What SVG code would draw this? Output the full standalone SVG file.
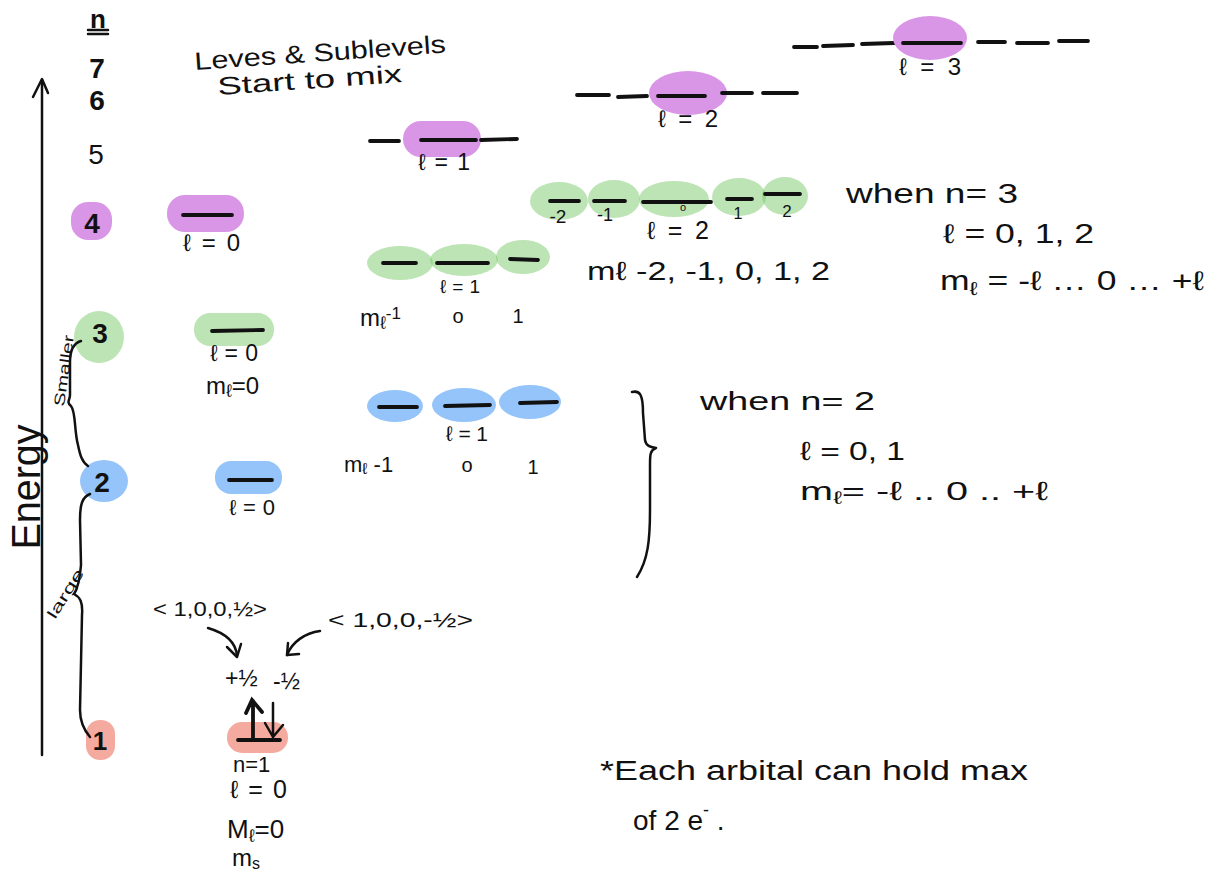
<svg xmlns="http://www.w3.org/2000/svg" width="1217" height="880" viewBox="0 0 1217 880">
<style>
.t{font-family:"Liberation Sans","DejaVu Sans",sans-serif;fill:#111}
.ln{stroke:#111;stroke-width:3.8;stroke-linecap:round;fill:none}
.th{stroke:#111;stroke-width:2.5;stroke-linecap:round;stroke-linejoin:round;fill:none}
.pu{fill:#da96e6}
.gr{fill:#7cc96a;fill-opacity:0.5}
.bl{fill:#94c4fa}
.sa{fill:#f5aaa0}
</style>
<rect width="1217" height="880" fill="#fff"/>

<g id="axis">
<path class="th" d="M42,80 L42,755"/>
<path class="th" d="M33,97 L42,79 L48,93"/>
<text class="t" font-size="40" text-anchor="middle" textLength="125" lengthAdjust="spacingAndGlyphs" transform="translate(40,487) rotate(-90)">Energy</text>
</g>

<g id="n-labels">
<text class="t" font-size="26" font-weight="bold" x="98" y="28" text-anchor="middle">n</text>
<path class="th" d="M88,30 L108,30 M88,34 L108,34"/>
<text class="t" font-size="28" font-weight="bold" x="97" y="78" text-anchor="middle">7</text>
<text class="t" font-size="28" font-weight="bold" x="97" y="110" text-anchor="middle">6</text>
<text class="t" font-size="28" x="96" y="164" text-anchor="middle">5</text>
</g>

<g id="title">
<text class="t" font-size="25" transform="translate(195,70) rotate(-4)" textLength="252" lengthAdjust="spacingAndGlyphs">Leves &amp; Sublevels</text>
<text class="t" font-size="25" transform="translate(218,95) rotate(-4)" textLength="185" lengthAdjust="spacingAndGlyphs">Start to mix</text>
</g>

<g id="n4">
<rect class="pu" x="71" y="202" width="41" height="38" rx="17"/>
<text class="t" font-size="28" font-weight="bold" x="92" y="233" text-anchor="middle">4</text>
</g>
<g id="n3">
<ellipse class="gr" cx="99" cy="337" rx="25" ry="26"/>
<text class="t" font-size="28" font-weight="bold" x="100" y="343" text-anchor="middle">3</text>
</g>
<g id="n2">
<ellipse class="bl" cx="104" cy="481" rx="24" ry="21"/>
<text class="t" font-size="28" font-weight="bold" x="102" y="492" text-anchor="middle">2</text>
</g>
<g id="n1">
<rect class="sa" x="86" y="720" width="29" height="40" rx="14"/>
<text class="t" font-size="26" font-weight="bold" x="100" y="750" text-anchor="middle">1</text>
</g>

<g id="connectors">
<path class="th" stroke-width="2" d="M81,341 C74,343 70,350 70,362 L70,395 C70,400 66,402 71,406 C76,412 74,430 78,445 C80,455 82,462 88,466"/>
<path class="th" stroke-width="2" d="M90,494 C82,497 80,505 80,520 L81,565 C80,578 78,588 74,594 C80,597 83,602 82,615 L80,710 C80,722 84,730 90,737"/>
<text class="t" font-size="15" textLength="72" lengthAdjust="spacingAndGlyphs" transform="translate(64,407) rotate(-82)">Smaller</text>
<text class="t" font-size="15" textLength="56" lengthAdjust="spacingAndGlyphs" transform="translate(55,620) rotate(-58)">large</text>
<path class="th" d="M208,628 C225,633 236,642 237,656"/>
<path class="th" d="M227,647 L237,657 L241,644"/>
<path class="th" d="M320,631 C305,633 292,642 287,655"/>
<path class="th" d="M288,643 L287,655 L299,654"/>
<path class="th" stroke-width="3" d="M632,392 C640,390 643,395 643,413 L645,440 C646,446 650,447 656,448 C650,450 650,455 650,465 L650,510 C650,540 648,560 637,577"/>
</g>

<g id="n5-l1">
<path class="ln" d="M370,141 L399,141"/>
<rect class="pu" x="403" y="121" width="78" height="36" rx="18"/>
<path class="ln" d="M421,140 L476,140"/>
<path class="ln" d="M481,140 L517,139"/>
<text class="t" font-size="23" x="418" y="170" textLength="52" lengthAdjust="spacing">ℓ=1</text>
</g>

<g id="n6-l2">
<path class="ln" d="M577,95 L609,95 M618,97 L647,96"/>
<ellipse class="pu" cx="688" cy="93" rx="39" ry="22"/>
<path class="ln" d="M658,96 L705,96"/>
<path class="ln" d="M722,93 L752,93 M763,93 L797,93"/>
<text class="t" font-size="24" x="658" y="127" textLength="60" lengthAdjust="spacing">ℓ=2</text>
</g>

<g id="n7-l3">
<path class="ln" d="M794,47 L817,47 M823,46 L853,45 M862,44 L894,43"/>
<ellipse class="pu" cx="930" cy="38" rx="37" ry="22"/>
<path class="ln" d="M903,43 L961,43"/>
<path class="ln" d="M978,42 L1005,42 M1017,43 L1048,43 M1059,41 L1088,41"/>
<text class="t" font-size="24" x="899" y="75" textLength="62" lengthAdjust="spacing">ℓ=3</text>
</g>

<g id="n4-l0">
<rect class="pu" x="167" y="195" width="77" height="37" rx="18"/>
<path class="ln" d="M183,215 L232,215"/>
<text class="t" font-size="24" x="183" y="251" textLength="57" lengthAdjust="spacing">ℓ=0</text>
</g>

<g id="n3-l2">
<ellipse class="gr" cx="559" cy="201" rx="29" ry="19"/>
<ellipse class="gr" cx="614" cy="199" rx="26" ry="19"/>
<ellipse class="gr" cx="674" cy="199" rx="35" ry="18"/>
<ellipse class="gr" cx="739" cy="197" rx="27" ry="19"/>
<ellipse class="gr" cx="785" cy="196" rx="23" ry="19"/>
<path class="ln" d="M550,201 L579,201 M594,201 L625,201 M643,202 L711,202 M727,199 L752,199 M765,194 L800,194"/>
<text class="t" font-size="19" x="558" y="223" text-anchor="middle">-2</text>
<text class="t" font-size="18" x="605" y="221" text-anchor="middle">-1</text>
<text class="t" font-size="11" x="683" y="211" text-anchor="middle">o</text>
<text class="t" font-size="25" x="647" y="239" textLength="62" lengthAdjust="spacing">ℓ=2</text>
<text class="t" font-size="16" x="738" y="219" text-anchor="middle">1</text>
<text class="t" font-size="17" x="787" y="217" text-anchor="middle">2</text>
</g>

<g id="n3-text">
<text class="t" font-size="27" x="846" y="203" textLength="172" lengthAdjust="spacingAndGlyphs">when  n= 3</text>
<text class="t" font-size="27" x="943" y="243" textLength="151" lengthAdjust="spacingAndGlyphs">ℓ = 0, 1, 2</text>
<text class="t" font-size="27" x="940" y="290" textLength="264" lengthAdjust="spacingAndGlyphs">m<tspan font-size="19" dy="5">ℓ</tspan><tspan dy="-5"> = -ℓ … 0 … +ℓ</tspan></text>
<text class="t" font-size="26" x="587" y="280" textLength="243" lengthAdjust="spacingAndGlyphs">mℓ -2, -1, 0, 1, 2</text>
</g>

<g id="n3-l1">
<ellipse class="gr" cx="400" cy="263" rx="33" ry="17"/>
<ellipse class="gr" cx="464" cy="260" rx="34" ry="16"/>
<ellipse class="gr" cx="523" cy="257" rx="27" ry="17"/>
<path class="ln" d="M383,263 L416,263 M437,263 L488,263 M510,259 L538,260"/>
<text class="t" font-size="19" x="440" y="293" textLength="40" lengthAdjust="spacing">ℓ=1</text>
<text class="t" font-size="24" x="360" y="326">m<tspan font-size="18" dy="3">ℓ</tspan><tspan font-size="17" dy="-10">-1</tspan></text>
<text class="t" font-size="20" x="458" y="323" text-anchor="middle">o</text>
<text class="t" font-size="20" x="518" y="323" text-anchor="middle">1</text>
</g>

<g id="n3-l0">
<rect class="gr" x="194" y="313" width="80" height="33" rx="16"/>
<path class="ln" d="M212,331 L263,330"/>
<text class="t" font-size="23" x="210" y="361" textLength="48" lengthAdjust="spacing">ℓ=0</text>
<text class="t" font-size="24" x="206" y="394">m<tspan font-size="18" dy="3">ℓ</tspan><tspan dy="-3">=0</tspan></text>
</g>

<g id="n2-l1">
<ellipse class="bl" cx="395" cy="406" rx="28" ry="16"/>
<ellipse class="bl" cx="464" cy="405" rx="32" ry="17"/>
<ellipse class="bl" cx="530" cy="402" rx="31" ry="17"/>
<path class="ln" d="M379,407 L417,407 M445,406 L490,405 M520,403 L557,402"/>
<text class="t" font-size="21" x="446" y="441" textLength="42" lengthAdjust="spacing">ℓ=1</text>
<text class="t" font-size="22" x="344" y="472">m<tspan font-size="16" dy="2">ℓ</tspan><tspan dy="-2">  -1</tspan></text>
<text class="t" font-size="20" x="467" y="472" text-anchor="middle">o</text>
<text class="t" font-size="20" x="533" y="474" text-anchor="middle">1</text>
</g>

<g id="n2-l0">
<rect class="bl" x="215" y="461" width="67" height="33" rx="16"/>
<path class="ln" d="M229,480 L272,480"/>
<text class="t" font-size="22" x="229" y="515" textLength="46" lengthAdjust="spacing">ℓ=0</text>
</g>

<g id="n2-text">
<text class="t" font-size="26" x="700" y="410" textLength="175" lengthAdjust="spacingAndGlyphs">when  n= 2</text>
<text class="t" font-size="26" x="800" y="460" textLength="105" lengthAdjust="spacingAndGlyphs">ℓ = 0, 1</text>
<text class="t" font-size="26" x="800" y="500" textLength="248" lengthAdjust="spacingAndGlyphs">m<tspan font-size="18" dy="4">ℓ</tspan><tspan dy="-4">= -ℓ .. 0 .. +ℓ</tspan></text>
</g>

<g id="n1-l0">
<rect class="sa" x="227" y="722" width="61" height="31" rx="15"/>
<path class="ln" d="M238,740 L280,740"/>
<path class="ln" d="M253,740 L253,701 M246,713 L252,700 L262,712"/>
<path class="th" d="M273,703 L273,737 M265,723 L273,737 L283,725"/>
<text class="t" font-size="23" x="225" y="686">+½</text>
<text class="t" font-size="23" x="273" y="689">-½</text>
<text class="t" font-size="21" x="153" y="616" textLength="114" lengthAdjust="spacingAndGlyphs">&lt; 1,0,0,½&gt;</text>
<text class="t" font-size="21" x="328" y="627" textLength="145" lengthAdjust="spacingAndGlyphs">&lt; 1,0,0,-½&gt;</text>
<text class="t" font-size="22" x="233" y="772">n=1</text>
<text class="t" font-size="25" x="230" y="798" textLength="57" lengthAdjust="spacing">ℓ=0</text>
<text class="t" font-size="26" x="227" y="838">M<tspan font-size="18" dy="4">ℓ</tspan><tspan dy="-4">=0</tspan></text>
<text class="t" font-size="24" x="232" y="866">m<tspan font-size="16" dy="3">s</tspan></text>
</g>

<g id="note">
<text class="t" font-size="27" x="600" y="780" textLength="428" lengthAdjust="spacingAndGlyphs">*Each arbital can hold max</text>
<text class="t" font-size="28" x="633" y="830">of 2 e<tspan font-size="18" dy="-14">-</tspan><tspan dy="14"> .</tspan></text>
</g>
</svg>
